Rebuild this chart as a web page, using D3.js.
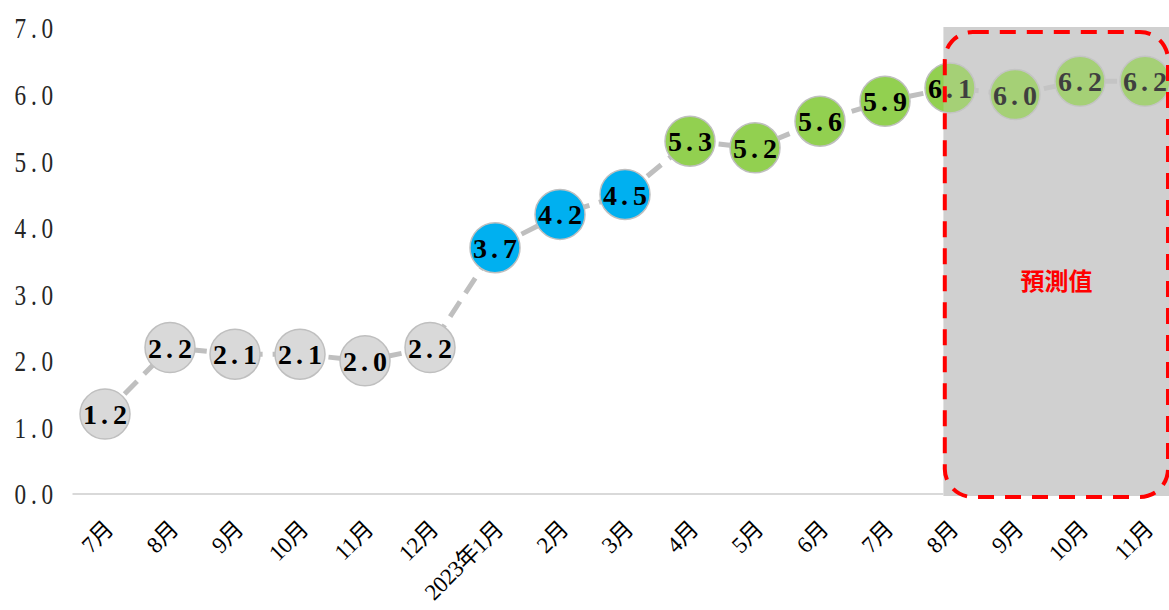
<!DOCTYPE html>
<html>
<head>
<meta charset="utf-8">
<script src="https://cdn.jsdelivr.net/npm/d3@7"></script>
<style>
  html, body { margin: 0; padding: 0; background: #fff; }
  svg { display: block; }
</style>
</head>
<body>
<svg id="chart" width="1169" height="610"></svg>
<script>
// Monthly values, July through the following November
const categories = ["7月","8月","9月","10月","11月","12月","2023年1月","2月","3月","4月","5月","6月","7月","8月","9月","10月","11月"];
const values = [1.2, 2.2, 2.1, 2.1, 2.0, 2.2, 3.7, 4.2, 4.5, 5.3, 5.2, 5.6, 5.9, 6.1, 6.0, 6.2, 6.2];
// Colour group of each month
const groups = ["g","g","g","g","g","g","b","b","b","n","n","n","n","n","n","n","n"];
const yTicks = [0, 1, 2, 3, 4, 5, 6, 7];
// First month of the forecast period (index into categories)
const forecastStart = 13;
const forecastLabel = "預測值";

const fills = { g: "#d9d9d9", b: "#00b0f0", n: "#92d050" };

const svg = d3.select("#chart");
const W = 1169, H = 610;
const margin = { left: 72.5, right: -8.5, top: 28, bottom: 116 };

const idx = d3.range(categories.length);
const x = d3.scaleBand().domain(idx).range([margin.left, W - margin.right]).padding(0);
const cx = i => x(i) + x.bandwidth() / 2;
const y = d3.scaleLinear().domain([0, 7]).range([H - margin.bottom, margin.top]);

const serif = "'Liberation Serif', 'DejaVu Serif', 'Noto Sans CJK TC', serif";
const fmt = d3.format(".1f");

// Forecast background
const boxX = cx(forecastStart) - x.bandwidth() * 0.1;
svg.append("rect")
  .attr("x", boxX).attr("y", y(7) - 1)
  .attr("width", W - boxX + 20).attr("height", y(0) - y(7) + 3)
  .attr("fill", "#d0d0d0");

// Y axis labels (narrow, tall numerals)
const yAxis = d3.axisLeft(y).tickValues(yTicks).tickFormat(fmt).tickSize(0).tickPadding(0);
const gy = svg.append("g").attr("transform", "translate(58,0)").call(yAxis);
gy.select(".domain").remove();
gy.selectAll("text")
  .attr("font-family", serif).attr("font-size", 29).attr("fill", "#262626")
  .attr("letter-spacing", 6).attr("dy", "0.34em")
  .attr("transform", "scale(0.8,1)");

// Baseline
svg.append("line")
  .attr("x1", margin.left).attr("x2", boxX)
  .attr("y1", y(0)).attr("y2", y(0))
  .attr("stroke", "#d9d9d9").attr("stroke-width", 2);

// X axis labels
const xAxis = d3.axisBottom(x).tickFormat(i => categories[i]).tickSize(0).tickPadding(0);
const gx = svg.append("g").attr("transform", `translate(0,${y(0)})`).call(xAxis);
gx.select(".domain").remove();
gx.selectAll(".tick text")
  .attr("font-family", serif).attr("font-size", 23).attr("fill", "#000")
  .attr("letter-spacing", -0.5)
  .attr("text-anchor", "end")
  .attr("transform", "translate(4,31) rotate(-45)")
  .attr("dy", "0.35em").attr("y", 0);

// Connecting dashed line
const line = d3.line().x((d, i) => cx(i)).y(d => y(d));
svg.append("path")
  .datum(values)
  .attr("d", line)
  .attr("fill", "none")
  .attr("stroke", "#bfbfbf").attr("stroke-width", 5)
  .attr("stroke-dasharray", "18 10");

// Value bubbles
const pts = svg.append("g").selectAll("g").data(values).join("g")
  .attr("transform", (d, i) => `translate(${cx(i)},${y(d)})`);
pts.append("circle")
  .attr("r", 25)
  .attr("fill", (d, i) => fills[groups[i]])
  .attr("stroke", "#bfbfbf").attr("stroke-width", 1.5);
// Value text with a widened decimal point
const vt = pts.append("text")
  .attr("text-anchor", "middle").attr("dy", "0.36em")
  .attr("font-family", serif).attr("font-size", 28).attr("font-weight", "bold")
  .attr("fill", "#000");
vt.each(function (d) {
  const [a, b] = fmt(d).split(".");
  const t = d3.select(this);
  t.append("tspan").text(a);
  t.append("tspan").attr("dx", 4).text(".");
  t.append("tspan").attr("dx", 5).text(b);
});

// Forecast veil over the bubbles in the shaded period
svg.append("rect")
  .attr("x", boxX).attr("y", y(7) - 1)
  .attr("width", W - boxX + 20).attr("height", y(0) - y(7) + 3)
  .attr("fill", "#d0d0d0").attr("opacity", 0.3);

// Dashed red frame
const fx0 = cx(forecastStart) - x.bandwidth() * 0.08, fx1 = W - 1;
svg.append("rect")
  .attr("x", fx0).attr("y", y(7) + 4)
  .attr("width", fx1 - fx0).attr("height", y(0) - y(7) - 1)
  .attr("rx", 28).attr("ry", 28)
  .attr("fill", "none")
  .attr("stroke", "#ff0000").attr("stroke-width", 4)
  .attr("stroke-dasharray", "16 11");

svg.append("text")
  .attr("x", (fx0 + fx1) / 2).attr("y", y(3.19))
  .attr("text-anchor", "middle").attr("dy", "0.35em")
  .attr("font-family", "'Noto Sans CJK TC', sans-serif")
  .attr("font-size", 24).attr("font-weight", "bold")
  .attr("fill", "#ff0000")
  .text(forecastLabel);
</script>
</body>
</html>
